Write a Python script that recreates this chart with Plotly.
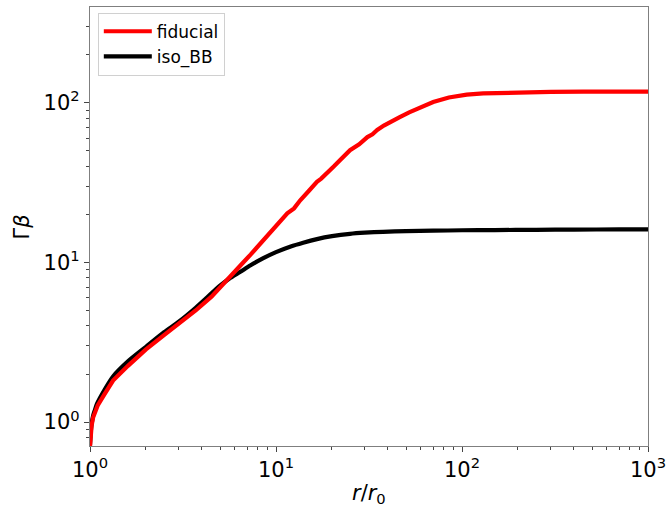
import plotly.graph_objects as go

# data
r_fid = [1.0, 1.01, 1.02, 1.04, 1.06, 1.1, 1.2, 1.33, 1.6, 2.0, 2.5, 3.0, 3.7, 4.5, 5.0,
         5.6, 6.4, 7.3, 8.5, 10.0, 10.9, 11.5, 12.5, 13.5, 15.0, 16.6, 17.5, 18.5, 20.5,
         22.0, 23.0, 25.0, 28.0, 31.0, 33.0, 35.0, 38.0, 42.0, 46.0, 52.0, 60.0, 70.0,
         85.0, 106.0, 130.0, 160.0, 220.0, 300.0, 450.0, 700.0, 1000.0]
g_fid = [0.7, 0.85, 0.95, 1.07, 1.14, 1.27, 1.5, 1.82, 2.25, 2.85, 3.5, 4.1, 5.0, 6.1, 7.0,
         8.0, 9.5, 11.2, 13.6, 17.0, 18.8, 20.3, 21.8, 24.5, 28.0, 32.0, 33.5, 35.5, 40.0,
         43.5, 46.0, 50.5, 55.0, 61.0, 63.5, 67.5, 72.0, 77.0, 81.0, 87.0, 94.0, 101.0,
         108.0, 112.5, 114.5, 115.5, 116.5, 117.0, 117.3, 117.5, 117.6]

r_iso = [1.0, 1.01, 1.02, 1.04, 1.06, 1.09, 1.2, 1.33, 1.6, 2.0, 2.5, 3.0, 3.7, 4.5, 5.0,
         5.6, 6.4, 7.3, 8.5, 10.0, 12.0, 14.0, 16.6, 20.0, 25.0, 30.0, 37.6, 50.0, 70.0,
         100.0, 150.0, 250.0, 400.0, 700.0, 1000.0]
g_iso = [0.72, 0.87, 0.97, 1.1, 1.18, 1.3, 1.6, 1.93, 2.4, 2.96, 3.65, 4.25, 5.2, 6.4, 7.15,
         7.9, 8.7, 9.6, 10.6, 11.6, 12.6, 13.3, 14.0, 14.6, 15.1, 15.35, 15.55, 15.7, 15.8,
         15.9, 15.95, 16.0, 16.05, 16.1, 16.1]

x_ticks = [1, 10, 100, 1000]
x_ticktext = ["10<sup>0</sup>", "10<sup>1</sup>", "10<sup>2</sup>", "10<sup>3</sup>"]
y_ticks = [1, 10, 100]
y_ticktext = ["10<sup>0</sup>", "10<sup>1</sup>", "10<sup>2</sup>"]

minor_x = [m * 10 ** d for d in range(0, 3) for m in range(2, 10)]
minor_y = [m * 10 ** d for d in range(-1, 3) for m in range(2, 10)]

fig = go.Figure()
fig.add_trace(go.Scatter(x=r_iso, y=g_iso, mode="lines", name="iso_BB",
                         line=dict(color="black", width=4.2, shape="spline", smoothing=0.6),
                         legendrank=2))
fig.add_trace(go.Scatter(x=r_fid, y=g_fid, mode="lines", name="fiducial",
                         line=dict(color="red", width=4.2),
                         legendrank=1))

axis_common = dict(
    type="log", showgrid=False, zeroline=False,
    showline=True, linecolor="#7f7f7f", linewidth=1.2, mirror=True,
    ticks="outside", ticklen=5, tickwidth=1, tickcolor="#444444",
    tickfont=dict(family="DejaVu Sans", size=21, color="black"),
)

fig.update_xaxes(range=[0, 3], tickvals=x_ticks, ticktext=x_ticktext,
                 minor=dict(ticks="outside", ticklen=3, tickcolor="#444444", tickvals=minor_x),
                 **axis_common)
fig.update_yaxes(range=[-0.15, 2.6], tickvals=y_ticks, ticktext=y_ticktext,
                 minor=dict(ticks="outside", ticklen=3, tickcolor="#444444", tickvals=minor_y),
                 **axis_common)

fig.update_layout(
    width=669, height=508,
    margin=dict(l=90, r=21, t=7, b=62, autoexpand=False),
    plot_bgcolor="white", paper_bgcolor="white",
    font=dict(family="DejaVu Sans", color="black"),
    legend=dict(x=0.014, y=0.987, xanchor="left", yanchor="top",
                bgcolor="white", bordercolor="#d0d0d0", borderwidth=1,
                itemwidth=48,
                font=dict(family="DejaVu Sans", size=17, color="black")),
    annotations=[
        dict(text="<i>r</i>/<i>r</i><sub>0</sub>", xref="paper", yref="paper",
             x=0.5, y=-0.109, xanchor="center", yanchor="middle", showarrow=False,
             font=dict(family="DejaVu Sans", size=21, color="black")),
        dict(text="Γ<i>β</i>", xref="paper", yref="paper",
             x=-0.122, y=0.5, xanchor="center", yanchor="middle", showarrow=False,
             textangle=-90, font=dict(family="DejaVu Sans", size=21, color="black")),
    ],
)

fig.write_html("out.html", config={"displayModeBar": False},
               post_script="document.body.style.margin='0';")
